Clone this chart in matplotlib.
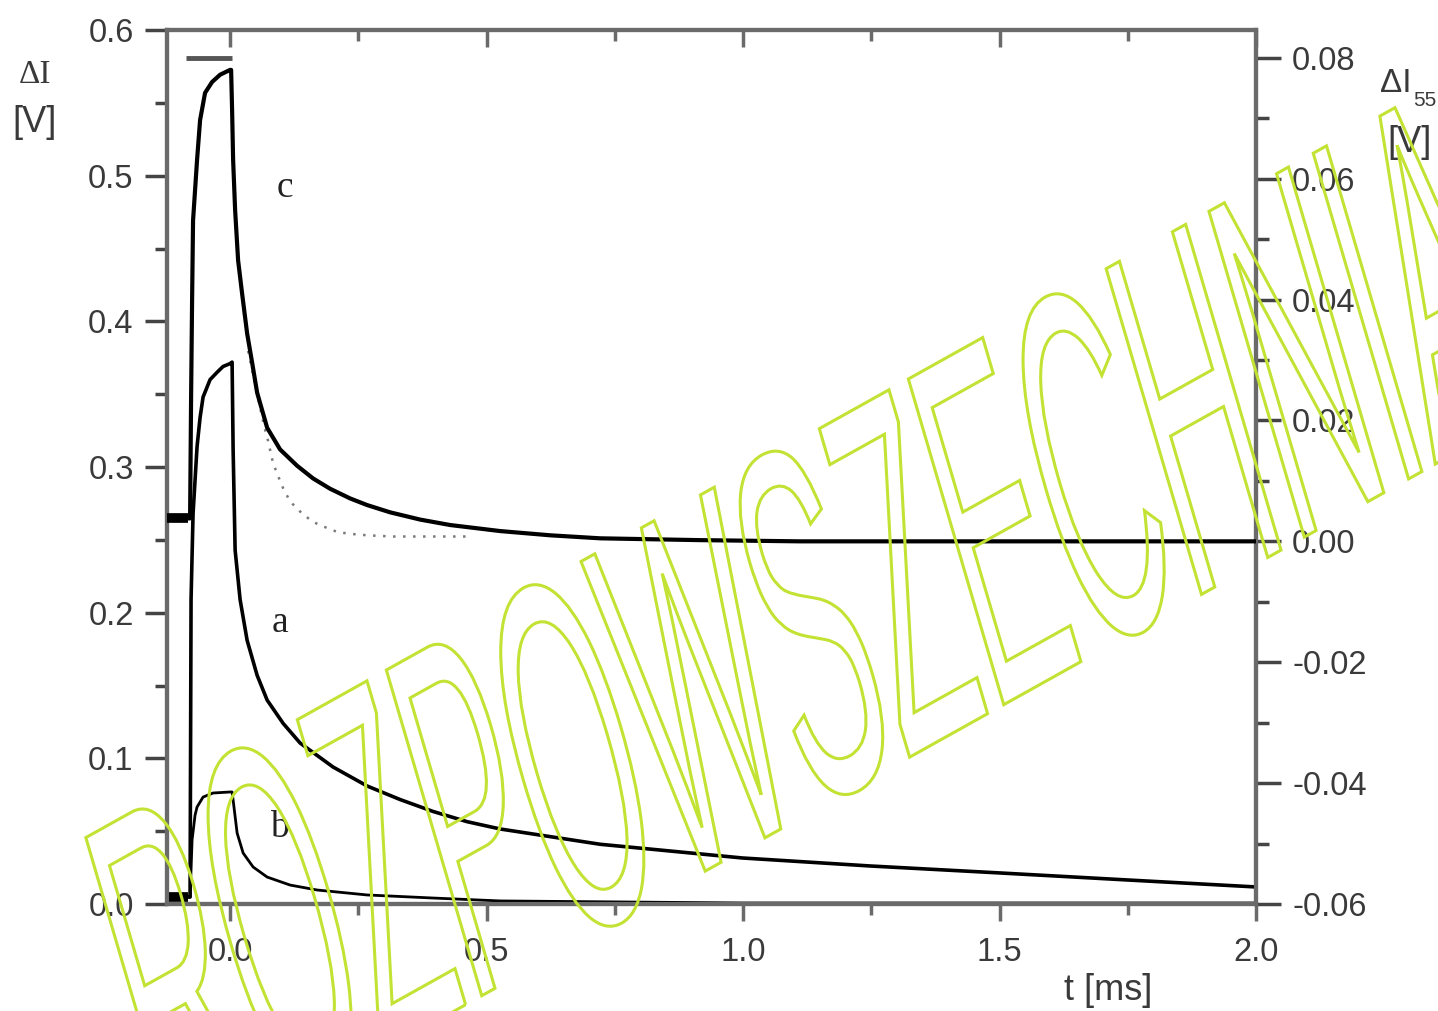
import matplotlib
matplotlib.use('Agg')
import matplotlib.pyplot as plt
from matplotlib.ticker import MultipleLocator, FixedLocator
from matplotlib.textpath import TextPath
from matplotlib.patches import PathPatch
from matplotlib.font_manager import FontProperties
from matplotlib.transforms import Affine2D

# Trace a (left axis, V)
t_a = [-0.123, -0.0819, -0.078, -0.0761, -0.0722, -0.0683, -0.0644, -0.0585,
       -0.0527, -0.039, -0.0254, -0.0137, 0.0, 0.0039, 0.0059, 0.0098, 0.0195,
       0.0332, 0.0527, 0.0722, 0.1034, 0.1365, 0.2009, 0.2672, 0.3315, 0.3959,
       0.4622, 0.5265, 0.7215, 0.9984, 1.248, 1.5016, 1.7492, 2.0]
v_a = [0.0048, 0.0048, 0.0048, 0.209, 0.268, 0.291, 0.314, 0.334,
       0.348, 0.360, 0.365, 0.369, 0.371, 0.372, 0.312, 0.243, 0.209,
       0.181, 0.157, 0.140, 0.124, 0.1105, 0.094, 0.081, 0.0717, 0.0635,
       0.0565, 0.0515, 0.041, 0.0316, 0.0261, 0.0213, 0.0165, 0.0117]

# Trace b (left axis, V)
t_b = [-0.123, -0.0819, -0.078, -0.0741, -0.0683, -0.0644, -0.0527, -0.0332,
       0.0, 0.0039, 0.0059, 0.0137, 0.0254, 0.0449, 0.0722, 0.117, 0.1697,
       0.2672, 0.3959, 0.5265, 0.9984, 2.0]
v_b = [0.0048, 0.0048, 0.0048, 0.044, 0.061, 0.0666, 0.0734, 0.0762,
       0.0769, 0.0769, 0.0714, 0.0487, 0.035, 0.0254, 0.0185, 0.013, 0.0096,
       0.0062, 0.0041, 0.0021, 0.0007, 0.0007]

# Trace c (right axis, V)
t_c = [-0.123, -0.0819, -0.078, -0.0761, -0.0741, -0.0722, -0.0644, -0.0585,
       -0.0488, -0.0351, -0.0195, 0.0, 0.002, 0.0039, 0.0059, 0.0098, 0.0156,
       0.0234, 0.0332, 0.0429, 0.0527, 0.0722, 0.0975, 0.1307, 0.1619, 0.195,
       0.234, 0.2672, 0.312, 0.3705, 0.429, 0.5265, 0.624, 0.7215, 0.9165,
       1.1115, 2.0]
v_c = [0.0038, 0.0038, 0.0038, 0.0232, 0.0398, 0.0531, 0.0631, 0.0697,
       0.0742, 0.076, 0.0772, 0.078, 0.078, 0.0714, 0.0631, 0.0548, 0.0465,
       0.041, 0.0344, 0.0296, 0.0246, 0.0188, 0.0152, 0.0125, 0.0104, 0.0087,
       0.0071, 0.006, 0.0048, 0.0036, 0.0027, 0.0017, 0.001, 0.0005, 0.0002,
       0.0, 0.0]

# Fitted curve for c (dotted, right axis)
t_fit = [0.0351, 0.0527, 0.0663, 0.0741, 0.0839, 0.0936, 0.1034, 0.117,
         0.1404, 0.1619, 0.1892, 0.2106, 0.2399, 0.2672, 0.3179, 0.468]
v_fit = [0.0315, 0.0244, 0.0191, 0.0166, 0.0129, 0.0108, 0.0088, 0.0066,
         0.0046, 0.0032, 0.0022, 0.0015, 0.0012, 0.001, 0.0008, 0.0008]

# Flash marker
flash_t = [-0.086, 0.004]
flash_v = [0.5806, 0.5806]

# Curve labels (left axis coords)
lab_text = ['c', 'a', 'b']
lab_t = [0.107, 0.0975, 0.0956]
lab_v = [0.4852, 0.1867, 0.046]

xticks = [0.0, 0.5, 1.0, 1.5, 2.0]
xticklabels = ['0.0', '0.5', '1.0', '1.5', '2.0']
yticks_l = [0.0, 0.1, 0.2, 0.3, 0.4, 0.5, 0.6]
yticks_r = [-0.06, -0.04, -0.02, 0.00, 0.02, 0.04, 0.06, 0.08]

sans = 'Liberation Sans'
serif = 'Liberation Serif'
spine_c = '#6a6a6a'
txt_c = '#3a3a3a'

fig = plt.figure(figsize=(14.38, 10.11), dpi=100)
ax = fig.add_axes([167/1438, 107/1011, (1256-167)/1438, (904-30)/1011])
ax2 = ax.twinx()

ax.plot(t_a, v_a, color='black', lw=2.6, zorder=3)
ax.plot(t_b, v_b, color='black', lw=2.0, zorder=3)
ax.plot(t_a[:2], v_a[:2], color='black', lw=7, solid_capstyle='butt', zorder=3)
ax.plot(flash_t, flash_v, color='#555555', lw=3.5, solid_capstyle='butt')
ax2.plot(t_c, v_c, color='black', lw=3.0, zorder=3)
ax2.plot(t_c[:2], v_c[:2], color='black', lw=7, solid_capstyle='butt', zorder=3)
ax2.plot(t_fit, v_fit, color='#7a7a7a', lw=1.8, linestyle=(0, (1, 3)))

for s, tx, vy in zip(lab_text, lab_t, lab_v):
    ax.text(tx, vy, s, fontsize=27, family=serif, color='#222222',
            ha='center', va='baseline')

ax.set_xlim(-0.123, 2.0)
ax.set_ylim(0, 0.6)
ax2.set_ylim(-0.06, 0.0846)

ax.xaxis.set_major_locator(FixedLocator(xticks))
ax.set_xticklabels(xticklabels)
ax.xaxis.set_minor_locator(MultipleLocator(0.25))
ax.yaxis.set_major_locator(FixedLocator(yticks_l))
ax.set_yticklabels(['%.1f' % v for v in yticks_l])
ax.yaxis.set_minor_locator(MultipleLocator(0.05))
ax2.yaxis.set_major_locator(FixedLocator(yticks_r))
ax2.set_yticklabels(['%.2f' % v for v in yticks_r])
ax2.yaxis.set_minor_locator(MultipleLocator(0.01))

ax.tick_params(axis='x', which='both', bottom=True, top=False, direction='out',
               labelsize=23.5, labelcolor=txt_c, color=spine_c, width=2.5, pad=12)
ax.tick_params(axis='x', which='major', length=12)
ax.tick_params(axis='x', which='minor', length=8)
ax.tick_params(axis='y', which='both', direction='out', labelsize=23.5,
               labelcolor=txt_c, color='#444444', width=2.5, pad=8)
ax.tick_params(axis='y', which='major', length=16)
ax.tick_params(axis='y', which='minor', length=9)
ax2.tick_params(axis='y', which='both', direction='out', labelsize=23.5,
                labelcolor=txt_c, color='#444444', width=2.5, pad=8)
ax2.tick_params(axis='y', which='major', length=18)
ax2.tick_params(axis='y', which='minor', length=9)
for lab in ax.get_xticklabels() + ax.get_yticklabels() + ax2.get_yticklabels():
    lab.set_family(sans)

# top ticks point inward
sec = ax.secondary_xaxis('top')
sec.xaxis.set_major_locator(FixedLocator(xticks))
sec.xaxis.set_minor_locator(MultipleLocator(0.25))
sec.tick_params(which='both', direction='in', labeltop=False, color=spine_c, width=2.5)
sec.tick_params(which='major', length=12)
sec.tick_params(which='minor', length=8)
sec.spines['top'].set_visible(False)

for a in (ax, ax2):
    for sp in a.spines.values():
        sp.set_color(spine_c)
        sp.set_linewidth(3)

fig.text(35/1438, 1 - 75/1011, 'ΔI', fontsize=24, family=serif, color=txt_c,
         ha='center', va='center')
fig.text(35/1438, 1 - 122/1011, '[V]', fontsize=26, family=sans, color=txt_c,
         ha='center', va='center')
fig.text(1396/1438, 1 - 84/1011, 'ΔI', fontsize=24, family=sans, color=txt_c,
         ha='center', va='center')
fig.text(1425/1438, 1 - 101/1011, '55', fontsize=15, family=sans, color=txt_c,
         ha='center', va='center')
fig.text(1410/1438, 1 - 143/1011, '[V]', fontsize=26, family=sans, color=txt_c,
         ha='center', va='center')
fig.text(1108/1438, 1 - 990/1011, 't [ms]', fontsize=26, family=sans, color=txt_c,
         ha='center', va='center')

# watermark outline
wm_prop = FontProperties(family=sans)
size = 370
wm_path = TextPath((0, 0), 'ROZPOWSZECHNIANIA', size=size, prop=wm_prop)
pre = TextPath((0, 0), 'RO', size=size, prop=wm_prop)
zx = pre.get_extents().x1 + 0.07 * size
tr = Affine2D().scale(0.415, 1.0).rotate_deg(22).scale(1.0, 1.38)
ref = tr.transform([(zx, 0.716 * size)])[0]
tr = tr.translate(287 - ref[0], (1011 - 710) - ref[1])
wm = PathPatch(wm_path, transform=tr, facecolor='none', edgecolor='#c2e234',
               lw=2.2, zorder=10)
fig.add_artist(wm)

fig.savefig('out.png', dpi=100)
